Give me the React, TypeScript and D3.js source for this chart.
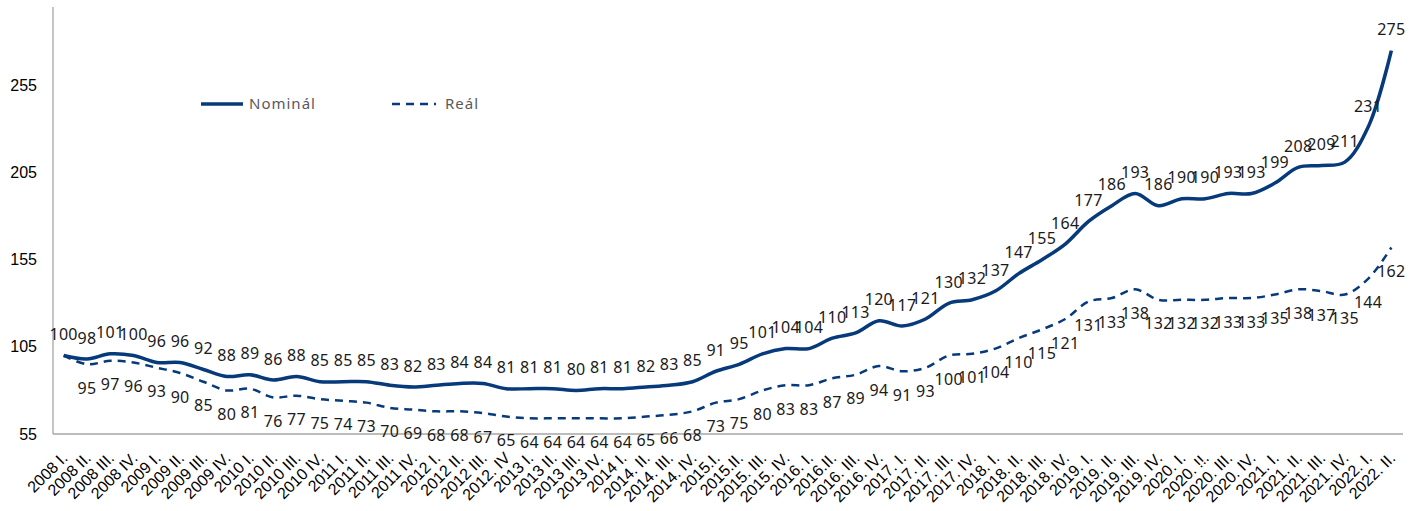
import React from "react";
import * as d3 from "d3";

const categories = [
  "2008 I.", "2008 II.", "2008 III.", "2008 IV.",
  "2009 I.", "2009 II.", "2009 III.", "2009 IV.",
  "2010 I.", "2010 II.", "2010 III.", "2010 IV.",
  "2011 I.", "2011 II.", "2011 III.", "2011 IV.",
  "2012 I.", "2012 II.", "2012 III.", "2012. IV",
  "2013 I.", "2013 II.", "2013 III.", "2013 IV.",
  "2014 I.", "2014. II.", "2014. III.", "2014. IV.",
  "2015.I.", "2015.II.", "2015. III.", "2015. IV.",
  "2016. I.", "2016.II.", "2016. III.", "2016. IV.",
  "2017. I.", "2017. II.", "2017. III.", "2017. IV.",
  "2018. I.", "2018. II.", "2018. III.", "2018. IV.",
  "2019. I.", "2019. II.", "2019. III.", "2019. IV.",
  "2020. I.", "2020. !!.", "2020. III.", "2020. IV.",
  "2021. I.", "2021. II.", "2021. III.", "2021. IV.",
  "2022. I.", "2022. II.",
];

const nominal = [
  100, 98, 101, 100, 96, 96, 92, 88, 89, 86, 88, 85, 85, 85, 83, 82,
  83, 84, 84, 81, 81, 81, 80, 81, 81, 82, 83, 85, 91, 95, 101, 104,
  104, 110, 113, 120, 117, 121, 130, 132, 137, 147, 155, 164, 177, 186,
  193, 186, 190, 190, 193, 193, 199, 208, 209, 211, 231, 275,
];

const real = [
  100, 95, 97, 96, 93, 90, 85, 80, 81, 76, 77, 75, 74, 73, 70, 69,
  68, 68, 67, 65, 64, 64, 64, 64, 64, 65, 66, 68, 73, 75, 80, 83,
  83, 87, 89, 94, 91, 93, 100, 101, 104, 110, 115, 121, 131, 133,
  138, 132, 132, 132, 133, 133, 135, 138, 137, 135, 144, 162,
];

const yTicks = [55, 105, 155, 205, 255];

const W = 1418;
const H = 511;
const COLOR = "#063a7a";

export default function App() {
  const x = d3.scaleBand<string>().domain(categories).range([52, 1403]);
  const y = d3.scaleLinear().domain([55, 300]).range([434, 7]);
  const cx = (i: number) => (x(categories[i]) as number) + x.bandwidth() / 2;

  const line = d3
    .line<number>()
    .x((_, i) => cx(i))
    .y((d) => y(d))
    .curve(d3.curveCatmullRom.alpha(0.5));

  const labelFont = "'Noto Sans', sans-serif";
  const axisFont = "'Liberation Sans', Arial, sans-serif";

  return (
    <svg width={W} height={H} style={{ position: "absolute", left: 0, top: 0, background: "#fff" }}>
      {/* axes */}
      <line x1={53} x2={53} y1={7} y2={434} stroke="#a6a6a6" strokeWidth={1.3} />
      <line x1={53} x2={1403} y1={434} y2={434} stroke="#a6a6a6" strokeWidth={1.3} />
      {yTicks.map((t) => (
        <text key={t} x={37} y={y(t)} dy="0.35em" textAnchor="end" fontFamily={axisFont} fontSize={16} fill="#000">
          {t}
        </text>
      ))}
      {categories.map((c, i) => (
        <text
          key={c + i}
          transform={`translate(${cx(i) + 5},${459}) rotate(-45)`}
          textAnchor="end"
          fontFamily={axisFont}
          fontSize={16}
          fill="#000"
        >
          {c}
        </text>
      ))}
      {/* lines */}
      <path d={line(real) || ""} fill="none" stroke={COLOR} strokeWidth={2.5} strokeDasharray="8,6" />
      <path d={line(nominal) || ""} fill="none" stroke={COLOR} strokeWidth={3.5} />
      {/* labels */}
      {nominal.map((v, i) => (
        <text key={"n" + i} x={cx(i)} y={y(v) - 21} dy="0.35em" textAnchor="middle" fontFamily={labelFont} fontSize={16} letterSpacing={0.3} fill="#1a1a1a">
          {v}
        </text>
      ))}
      {real.map((v, i) =>
        i === 0 ? null : (
          <text key={"r" + i} x={cx(i)} y={y(v) + 24} dy="0.35em" textAnchor="middle" fontFamily={labelFont} fontSize={16} letterSpacing={0.3} fill="#1a1a1a">
            {v}
          </text>
        )
      )}
      {/* legend */}
      <line x1={201} x2={243} y1={104} y2={104} stroke={COLOR} strokeWidth={3.5} />
      <text x={249} y={104} dy="0.35em" fontFamily={labelFont} fontSize={15} letterSpacing={1} fill="#595959">Nominál</text>
      <line x1={392} x2={436} y1={104} y2={104} stroke={COLOR} strokeWidth={2.5} strokeDasharray="8,6" />
      <text x={445} y={104} dy="0.35em" fontFamily={labelFont} fontSize={15} letterSpacing={1} fill="#595959">Reál</text>
    </svg>
  );
}
